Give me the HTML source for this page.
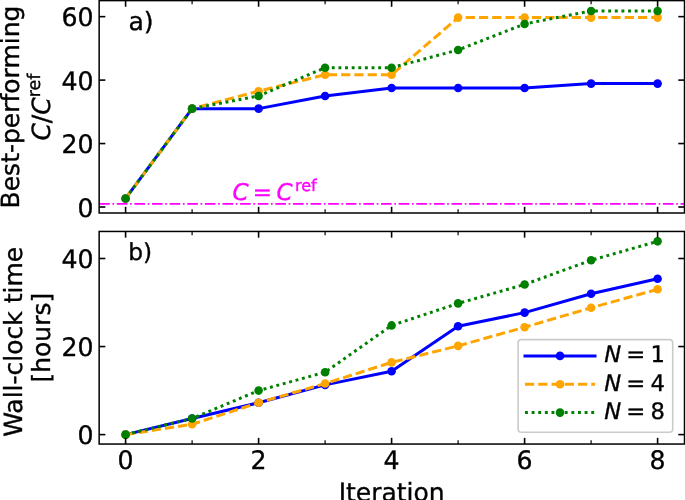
<!DOCTYPE html>
<html><head><meta charset="utf-8"><title>Figure</title>
<style>
html,body{margin:0;padding:0;background:#fff;}
svg{display:block}
.t{font-family:"DejaVu Sans","Liberation Sans",sans-serif;font-size:25px;fill:#000;stroke:#000;stroke-width:0.35px;text-rendering:geometricPrecision}
.tl{font-size:25.2px}
.tk{stroke:#000;stroke-width:1.6}
.mtk{stroke:#000;stroke-width:1.2}
</style></head><body>
<svg width="685" height="500" viewBox="0 0 685 500">
<defs>
<clipPath id="c1"><rect x="99.15" y="0.6" width="585.35" height="212.40"/></clipPath>
<clipPath id="c2"><rect x="99.15" y="231.45" width="585.35" height="212.60"/></clipPath>
</defs>
<rect width="685" height="500" fill="#fff"/>
<g clip-path="url(#c1)">
<line x1="99.15" y1="203.83" x2="684.5" y2="203.83" stroke="#ff00ff" stroke-width="1.9" stroke-dasharray="10.637 2.659 1.662 2.659"/>
<polyline points="125.60,198.43 192.10,108.65 258.60,108.65 325.10,95.96 391.60,88.03 458.10,88.03 524.60,88.03 591.10,83.59 657.60,83.59" fill="none" stroke="#0000ff" stroke-width="3.0" stroke-linejoin="round"/>
<circle cx="125.60" cy="198.43" r="4.3" fill="#0000ff"/>
<circle cx="192.10" cy="108.65" r="4.3" fill="#0000ff"/>
<circle cx="258.60" cy="108.65" r="4.3" fill="#0000ff"/>
<circle cx="325.10" cy="95.96" r="4.3" fill="#0000ff"/>
<circle cx="391.60" cy="88.03" r="4.3" fill="#0000ff"/>
<circle cx="458.10" cy="88.03" r="4.3" fill="#0000ff"/>
<circle cx="524.60" cy="88.03" r="4.3" fill="#0000ff"/>
<circle cx="591.10" cy="83.59" r="4.3" fill="#0000ff"/>
<circle cx="657.60" cy="83.59" r="4.3" fill="#0000ff"/>
<polyline points="125.60,198.43 192.10,108.65 258.60,91.20 325.10,74.71 391.60,74.71 458.10,17.60 524.60,17.60 591.10,17.60 657.60,17.60" fill="none" stroke="#ffa500" stroke-width="3.0" stroke-linejoin="round" stroke-dasharray="9.25 4.00"/>
<circle cx="125.60" cy="198.43" r="4.3" fill="#ffa500"/>
<circle cx="192.10" cy="108.65" r="4.3" fill="#ffa500"/>
<circle cx="258.60" cy="91.20" r="4.3" fill="#ffa500"/>
<circle cx="325.10" cy="74.71" r="4.3" fill="#ffa500"/>
<circle cx="391.60" cy="74.71" r="4.3" fill="#ffa500"/>
<circle cx="458.10" cy="17.60" r="4.3" fill="#ffa500"/>
<circle cx="524.60" cy="17.60" r="4.3" fill="#ffa500"/>
<circle cx="591.10" cy="17.60" r="4.3" fill="#ffa500"/>
<circle cx="657.60" cy="17.60" r="4.3" fill="#ffa500"/>
<polyline points="125.60,198.43 192.10,108.65 258.60,95.96 325.10,67.73 391.60,67.73 458.10,49.96 524.60,23.95 591.10,10.94 657.60,10.94" fill="none" stroke="#008000" stroke-width="3.0" stroke-linejoin="round" stroke-dasharray="2.9 3.725"/>
<circle cx="125.60" cy="198.43" r="4.3" fill="#008000"/>
<circle cx="192.10" cy="108.65" r="4.3" fill="#008000"/>
<circle cx="258.60" cy="95.96" r="4.3" fill="#008000"/>
<circle cx="325.10" cy="67.73" r="4.3" fill="#008000"/>
<circle cx="391.60" cy="67.73" r="4.3" fill="#008000"/>
<circle cx="458.10" cy="49.96" r="4.3" fill="#008000"/>
<circle cx="524.60" cy="23.95" r="4.3" fill="#008000"/>
<circle cx="591.10" cy="10.94" r="4.3" fill="#008000"/>
<circle cx="657.60" cy="10.94" r="4.3" fill="#008000"/>
</g>
<line x1="125.60" y1="213.0" x2="125.60" y2="206.8" class="tk"/>
<line x1="125.60" y1="0.6" x2="125.60" y2="6.8" class="tk"/>
<line x1="258.60" y1="213.0" x2="258.60" y2="206.8" class="tk"/>
<line x1="258.60" y1="0.6" x2="258.60" y2="6.8" class="tk"/>
<line x1="391.60" y1="213.0" x2="391.60" y2="206.8" class="tk"/>
<line x1="391.60" y1="0.6" x2="391.60" y2="6.8" class="tk"/>
<line x1="524.60" y1="213.0" x2="524.60" y2="206.8" class="tk"/>
<line x1="524.60" y1="0.6" x2="524.60" y2="6.8" class="tk"/>
<line x1="657.60" y1="213.0" x2="657.60" y2="206.8" class="tk"/>
<line x1="657.60" y1="0.6" x2="657.60" y2="6.8" class="tk"/>
<line x1="192.10" y1="213.0" x2="192.10" y2="209.3" class="mtk"/>
<line x1="192.10" y1="0.6" x2="192.10" y2="4.3" class="mtk"/>
<line x1="325.10" y1="213.0" x2="325.10" y2="209.3" class="mtk"/>
<line x1="325.10" y1="0.6" x2="325.10" y2="4.3" class="mtk"/>
<line x1="458.10" y1="213.0" x2="458.10" y2="209.3" class="mtk"/>
<line x1="458.10" y1="0.6" x2="458.10" y2="4.3" class="mtk"/>
<line x1="591.10" y1="213.0" x2="591.10" y2="209.3" class="mtk"/>
<line x1="591.10" y1="0.6" x2="591.10" y2="4.3" class="mtk"/>
<line x1="99.15" y1="207.00" x2="105.35000000000001" y2="207.00" class="tk"/>
<line x1="684.5" y1="207.00" x2="678.3" y2="207.00" class="tk"/>
<text transform="translate(93.6 216.81) scale(1 1.012)" text-anchor="end" class="t tl">0</text>
<line x1="99.15" y1="143.55" x2="105.35000000000001" y2="143.55" class="tk"/>
<line x1="684.5" y1="143.55" x2="678.3" y2="143.55" class="tk"/>
<text transform="translate(93.6 153.36) scale(1 1.012)" text-anchor="end" class="t tl">20</text>
<line x1="99.15" y1="80.10" x2="105.35000000000001" y2="80.10" class="tk"/>
<line x1="684.5" y1="80.10" x2="678.3" y2="80.10" class="tk"/>
<text transform="translate(93.6 89.91) scale(1 1.012)" text-anchor="end" class="t tl">40</text>
<line x1="99.15" y1="16.65" x2="105.35000000000001" y2="16.65" class="tk"/>
<line x1="684.5" y1="16.65" x2="678.3" y2="16.65" class="tk"/>
<text transform="translate(93.6 26.46) scale(1 1.012)" text-anchor="end" class="t tl">60</text>
<rect x="99.15" y="0.6" width="585.35" height="212.40" fill="none" stroke="#000" stroke-width="1.5"/>
<g clip-path="url(#c2)">
<polyline points="125.60,434.60 192.10,418.49 258.60,402.73 325.10,384.85 391.60,371.20 458.10,326.30 524.60,312.65 591.10,293.72 657.60,278.75" fill="none" stroke="#0000ff" stroke-width="3.0" stroke-linejoin="round"/>
<circle cx="125.60" cy="434.60" r="4.3" fill="#0000ff"/>
<circle cx="192.10" cy="418.49" r="4.3" fill="#0000ff"/>
<circle cx="258.60" cy="402.73" r="4.3" fill="#0000ff"/>
<circle cx="325.10" cy="384.85" r="4.3" fill="#0000ff"/>
<circle cx="391.60" cy="371.20" r="4.3" fill="#0000ff"/>
<circle cx="458.10" cy="326.30" r="4.3" fill="#0000ff"/>
<circle cx="524.60" cy="312.65" r="4.3" fill="#0000ff"/>
<circle cx="591.10" cy="293.72" r="4.3" fill="#0000ff"/>
<circle cx="657.60" cy="278.75" r="4.3" fill="#0000ff"/>
<polyline points="125.60,434.60 192.10,424.30 258.60,402.73 325.10,383.53 391.60,362.40 458.10,345.89 524.60,327.18 591.10,307.81 657.60,289.32" fill="none" stroke="#ffa500" stroke-width="3.0" stroke-linejoin="round" stroke-dasharray="9.25 4.00"/>
<circle cx="125.60" cy="434.60" r="4.3" fill="#ffa500"/>
<circle cx="192.10" cy="424.30" r="4.3" fill="#ffa500"/>
<circle cx="258.60" cy="402.73" r="4.3" fill="#ffa500"/>
<circle cx="325.10" cy="383.53" r="4.3" fill="#ffa500"/>
<circle cx="391.60" cy="362.40" r="4.3" fill="#ffa500"/>
<circle cx="458.10" cy="345.89" r="4.3" fill="#ffa500"/>
<circle cx="524.60" cy="327.18" r="4.3" fill="#ffa500"/>
<circle cx="591.10" cy="307.81" r="4.3" fill="#ffa500"/>
<circle cx="657.60" cy="289.32" r="4.3" fill="#ffa500"/>
<polyline points="125.60,434.60 192.10,418.49 258.60,390.58 325.10,372.22 391.60,325.42 458.10,303.41 524.60,284.47 591.10,260.26 657.60,241.33" fill="none" stroke="#008000" stroke-width="3.0" stroke-linejoin="round" stroke-dasharray="2.9 3.725"/>
<circle cx="125.60" cy="434.60" r="4.3" fill="#008000"/>
<circle cx="192.10" cy="418.49" r="4.3" fill="#008000"/>
<circle cx="258.60" cy="390.58" r="4.3" fill="#008000"/>
<circle cx="325.10" cy="372.22" r="4.3" fill="#008000"/>
<circle cx="391.60" cy="325.42" r="4.3" fill="#008000"/>
<circle cx="458.10" cy="303.41" r="4.3" fill="#008000"/>
<circle cx="524.60" cy="284.47" r="4.3" fill="#008000"/>
<circle cx="591.10" cy="260.26" r="4.3" fill="#008000"/>
<circle cx="657.60" cy="241.33" r="4.3" fill="#008000"/>
</g>
<line x1="125.60" y1="444.05" x2="125.60" y2="437.85" class="tk"/>
<line x1="125.60" y1="231.45" x2="125.60" y2="237.64999999999998" class="tk"/>
<line x1="258.60" y1="444.05" x2="258.60" y2="437.85" class="tk"/>
<line x1="258.60" y1="231.45" x2="258.60" y2="237.64999999999998" class="tk"/>
<line x1="391.60" y1="444.05" x2="391.60" y2="437.85" class="tk"/>
<line x1="391.60" y1="231.45" x2="391.60" y2="237.64999999999998" class="tk"/>
<line x1="524.60" y1="444.05" x2="524.60" y2="437.85" class="tk"/>
<line x1="524.60" y1="231.45" x2="524.60" y2="237.64999999999998" class="tk"/>
<line x1="657.60" y1="444.05" x2="657.60" y2="437.85" class="tk"/>
<line x1="657.60" y1="231.45" x2="657.60" y2="237.64999999999998" class="tk"/>
<line x1="192.10" y1="444.05" x2="192.10" y2="440.35" class="mtk"/>
<line x1="192.10" y1="231.45" x2="192.10" y2="235.14999999999998" class="mtk"/>
<line x1="325.10" y1="444.05" x2="325.10" y2="440.35" class="mtk"/>
<line x1="325.10" y1="231.45" x2="325.10" y2="235.14999999999998" class="mtk"/>
<line x1="458.10" y1="444.05" x2="458.10" y2="440.35" class="mtk"/>
<line x1="458.10" y1="231.45" x2="458.10" y2="235.14999999999998" class="mtk"/>
<line x1="591.10" y1="444.05" x2="591.10" y2="440.35" class="mtk"/>
<line x1="591.10" y1="231.45" x2="591.10" y2="235.14999999999998" class="mtk"/>
<line x1="99.15" y1="434.60" x2="105.35000000000001" y2="434.60" class="tk"/>
<line x1="684.5" y1="434.60" x2="678.3" y2="434.60" class="tk"/>
<text transform="translate(93.6 444.41) scale(1 1.012)" text-anchor="end" class="t tl">0</text>
<line x1="99.15" y1="346.55" x2="105.35000000000001" y2="346.55" class="tk"/>
<line x1="684.5" y1="346.55" x2="678.3" y2="346.55" class="tk"/>
<text transform="translate(93.6 356.36) scale(1 1.012)" text-anchor="end" class="t tl">20</text>
<line x1="99.15" y1="258.50" x2="105.35000000000001" y2="258.50" class="tk"/>
<line x1="684.5" y1="258.50" x2="678.3" y2="258.50" class="tk"/>
<text transform="translate(93.6 268.31) scale(1 1.012)" text-anchor="end" class="t tl">40</text>
<rect x="99.15" y="231.45" width="585.35" height="212.60" fill="none" stroke="#000" stroke-width="1.5"/>
<text transform="translate(125.60 468.71) scale(1 1.012)" text-anchor="middle" class="t tl">0</text>
<text transform="translate(258.60 468.71) scale(1 1.012)" text-anchor="middle" class="t tl">2</text>
<text transform="translate(391.60 468.71) scale(1 1.012)" text-anchor="middle" class="t tl">4</text>
<text transform="translate(524.60 468.71) scale(1 1.012)" text-anchor="middle" class="t tl">6</text>
<text transform="translate(657.60 468.71) scale(1 1.012)" text-anchor="middle" class="t tl">8</text>
<text x="391.65" y="500.8" text-anchor="middle" class="t">Iteration</text>
<text transform="translate(18.9 107) rotate(-90)" text-anchor="middle" class="t">Best-performing</text>
<text transform="translate(49.6 140.6) rotate(-90)" class="t"><tspan font-style="italic">C</tspan>/<tspan font-style="italic">C</tspan><tspan dy="-9.5" style="font-size:17.5px">ref</tspan></text>
<text transform="translate(22.35 341.8) rotate(-90)" text-anchor="middle" class="t">Wall-clock time</text>
<text transform="translate(49.7 337.7) rotate(-90)" text-anchor="middle" class="t">[hours]</text>
<text x="128.4" y="30.2" class="t" style="font-size:25.1px">a)</text>
<text x="128.3" y="259.8" class="t" style="font-size:23.3px">b)</text>
<text y="199.7" class="t" style="font-size:23px;fill:#ff00ff;stroke:#ff00ff"><tspan x="232.5" font-style="italic">C</tspan><tspan x="252.8">=</tspan><tspan x="276.6" font-style="italic">C</tspan><tspan x="294.9" dy="-8.9" style="font-size:16.1px">ref</tspan></text>
<rect x="518.1" y="339.6" width="154.6" height="92.6" rx="3.3" fill="#fff" fill-opacity="0.8" stroke="#cbcbcb" stroke-width="1.6"/>
<line x1="525.0" y1="355.9" x2="595.0" y2="355.9" stroke="#0000ff" stroke-width="3.0" stroke-linecap="square"/>
<circle cx="560" cy="355.9" r="4.3" fill="#0000ff"/>
<text y="362.4" class="t" style="font-size:22.7px"><tspan x="604.2" font-style="italic">N</tspan><tspan x="626.3">=</tspan><tspan x="650.6">1</tspan></text>
<line x1="525.0" y1="384.3" x2="595.0" y2="384.3" stroke="#ffa500" stroke-width="3.0" stroke-dasharray="9.25 4.00"/>
<circle cx="560" cy="384.3" r="4.3" fill="#ffa500"/>
<text y="390.7" class="t" style="font-size:22.7px"><tspan x="604.2" font-style="italic">N</tspan><tspan x="626.3">=</tspan><tspan x="650.6">4</tspan></text>
<line x1="525.0" y1="412.6" x2="595.0" y2="412.6" stroke="#008000" stroke-width="3.0" stroke-dasharray="2.9 3.725"/>
<circle cx="560" cy="412.6" r="4.3" fill="#008000"/>
<text y="419.0" class="t" style="font-size:22.7px"><tspan x="604.2" font-style="italic">N</tspan><tspan x="626.3">=</tspan><tspan x="650.6">8</tspan></text>
</svg>
</body></html>
